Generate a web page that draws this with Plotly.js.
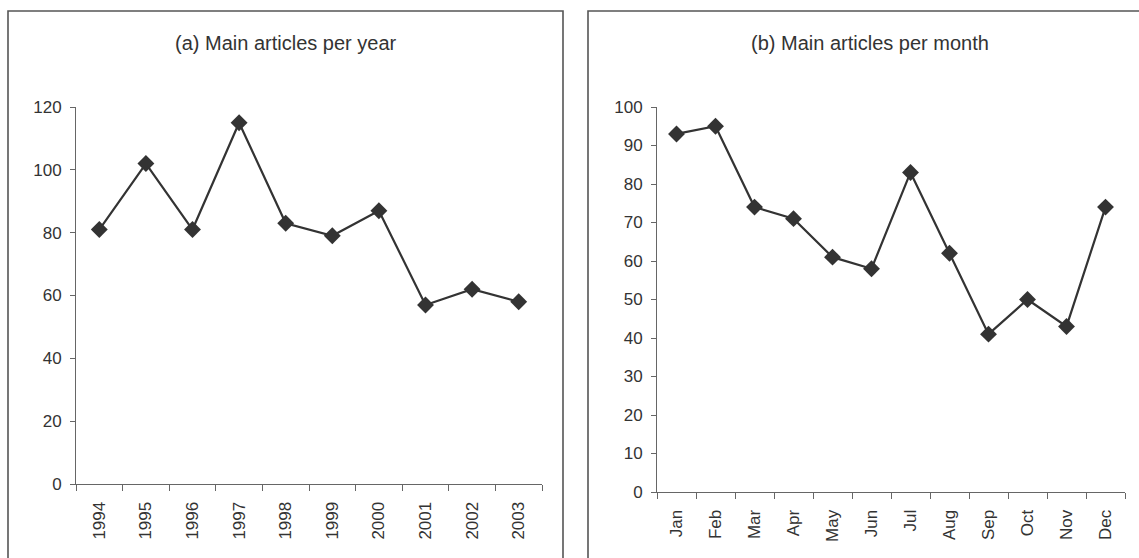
<!DOCTYPE html>
<html>
<head>
<meta charset="utf-8">
<script src="https://cdn.plot.ly/plotly-3.0.1.min.js"></script>
<style>html,body{margin:0;padding:0;background:#fff;}#chart{width:1139px;height:558px;}</style>
</head>
<body>
<div id="chart"></div>
<script>
const years = ["1994","1995","1996","1997","1998","1999","2000","2001","2002","2003"];
const perYear = [81,102,81,115,83,79,87,57,62,58];
const months = ["Jan","Feb","Mar","Apr","May","Jun","Jul","Aug","Sep","Oct","Nov","Dec"];
const perMonth = [93,95,74,71,61,58,83,62,41,50,43,74];
const titleA = "(a) Main articles per year";
const titleB = "(b) Main articles per month";

const W = 1139, H = 558;
const px = v => v / W;
const py = v => 1 - v / H;

const lineStyle = {color: "#333333", width: 2.2};
const markerStyle = {symbol: "diamond", size: 13, color: "#333333"};
const font = {family: "Liberation Sans, Arial, sans-serif", size: 17, color: "#333333"};
const titleFont = {family: "Liberation Sans, Arial, sans-serif", size: 20, color: "#333333"};

const traces = [
  {x: years, y: perYear, type: "scatter", mode: "lines+markers", line: lineStyle, marker: markerStyle, xaxis: "x", yaxis: "y", hoverinfo: "x+y"},
  {x: months, y: perMonth, type: "scatter", mode: "lines+markers", line: lineStyle, marker: markerStyle, xaxis: "x2", yaxis: "y2", hoverinfo: "x+y"}
];

const xBase = {type: "category", tickson: "boundaries", ticks: "outside", ticklen: 6, tickcolor: "#666", tickwidth: 1,
  showline: true, linecolor: "#666", linewidth: 1, showgrid: false, zeroline: false, tickangle: -90,
  tickfont: font, fixedrange: true, ticklabelstandoff: 10};
const yBase = {ticks: "outside", ticklen: 5, tickcolor: "#666", tickwidth: 1, showline: true, linecolor: "#666", linewidth: 1,
  showgrid: false, zeroline: false, tickfont: font, fixedrange: true, ticklabelstandoff: 5};

const layout = {
  width: W, height: H,
  margin: {l: 0, r: 0, t: 0, b: 0},
  paper_bgcolor: "#fff", plot_bgcolor: "#fff",
  showlegend: false,
  font: font,
  xaxis: Object.assign({}, xBase, {domain: [px(76), px(542)], range: [-0.5, years.length - 0.5], anchor: "y"}),
  yaxis: Object.assign({}, yBase, {domain: [py(484), py(107)], range: [0, 120], dtick: 20, anchor: "x"}),
  xaxis2: Object.assign({}, xBase, {domain: [px(657), px(1125)], range: [-0.5, months.length - 0.5], anchor: "y2"}),
  yaxis2: Object.assign({}, yBase, {domain: [py(492), py(107)], range: [0, 100], dtick: 10, anchor: "x2"}),
  shapes: [
    {type: "rect", xref: "paper", yref: "paper", x0: px(8), x1: px(563), y0: -0.1, y1: py(11), line: {color: "#555", width: 1.6}},
    {type: "rect", xref: "paper", yref: "paper", x0: px(588), x1: 1.05, y0: -0.1, y1: py(11), line: {color: "#555", width: 1.6}}
  ],
  annotations: [
    {text: titleA, xref: "paper", yref: "paper", x: px(285.5), y: py(43), xanchor: "center", yanchor: "middle", showarrow: false, font: titleFont},
    {text: titleB, xref: "paper", yref: "paper", x: px(870), y: py(43), xanchor: "center", yanchor: "middle", showarrow: false, font: titleFont}
  ]
};

Plotly.newPlot("chart", traces, layout, {displayModeBar: false, staticPlot: true});
</script>
</body>
</html>
